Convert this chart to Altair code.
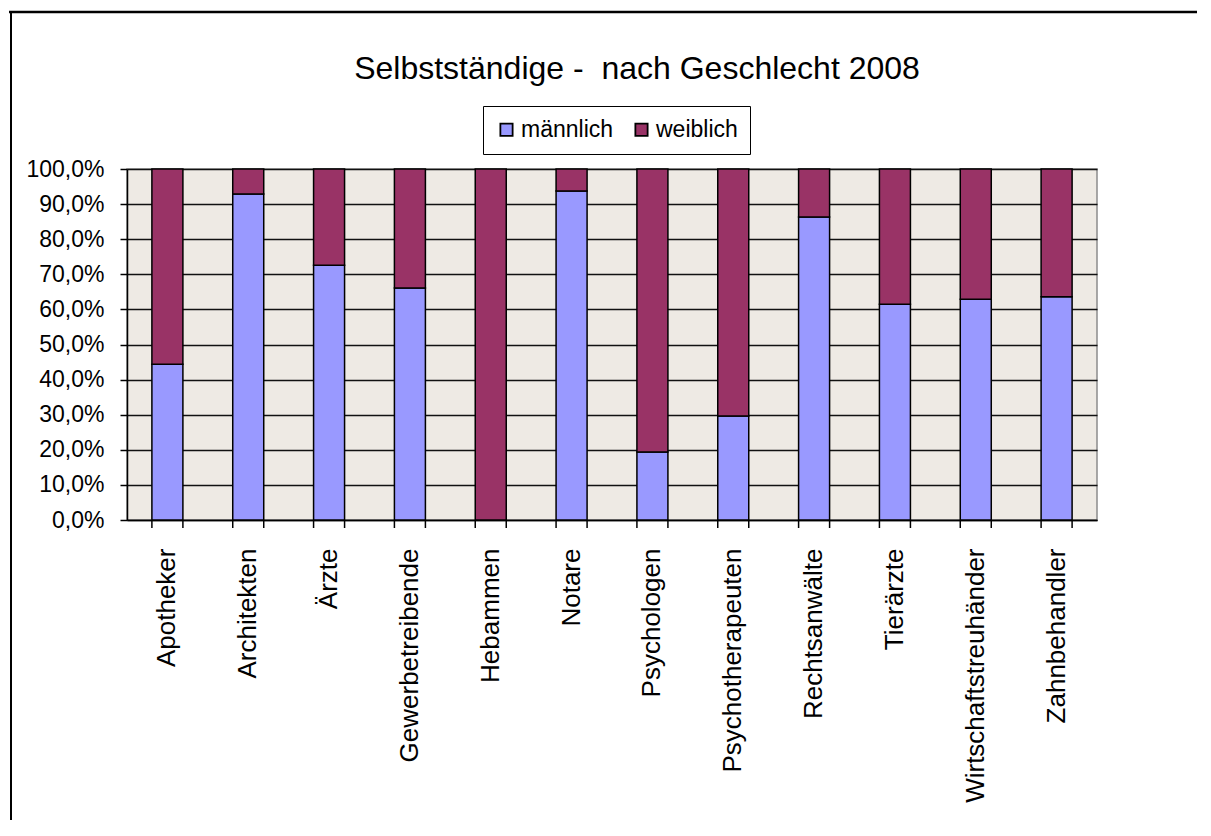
import altair as alt
import pandas as pd

categories = ["Apotheker", "Architekten", "Ärzte", "Gewerbetreibende", "Hebammen", "Notare",
              "Psychologen", "Psychotherapeuten", "Rechtsanwälte", "Tierärzte",
              "Wirtschaftstreuhänder", "Zahnbehandler"]
maennlich = [44.4, 92.9, 72.6, 66.1, 0.0, 93.7, 19.4, 29.6, 86.3, 61.5, 62.9, 63.6]
weiblich = [55.6, 7.1, 27.4, 33.9, 100.0, 6.3, 80.6, 70.4, 13.7, 38.5, 37.1, 36.4]
series = ["männlich", "weiblich"]
colors = ["#9999FF", "#993366"]
title_text = "Selbstständige - \u00a0nach Geschlecht 2008"

rows = []
for c, m, w in zip(categories, maennlich, weiblich):
    rows.append({"cat": c, "series": series[0], "value": m, "ord": 0})
    rows.append({"cat": c, "series": series[1], "value": w, "ord": 1})
df = pd.DataFrame(rows)
cat_df = pd.DataFrame({"cat": categories})
one = pd.DataFrame({"t": [title_text]})

FONT = "Liberation Sans"

xscale = alt.Scale(domain=categories, paddingInner=0.6165, paddingOuter=0.308)

bars = alt.Chart(df).mark_bar(stroke="black", strokeWidth=1.5).encode(
    x=alt.X("cat:N", sort=categories, scale=xscale,
            axis=alt.Axis(title=None, labelAngle=270, ticks=False, labelPadding=28,
                          labelFontSize=26, labelFont=FONT, labelColor="black",
                          domainColor="black", domainWidth=1.5, labelLimit=400)),
    y=alt.Y("value:Q", stack="zero", scale=alt.Scale(domain=[0, 100], nice=False),
            axis=alt.Axis(title=None, values=list(range(0, 101, 10)),
                          labelExpr="replace(format(datum.value, '.1f'), '.', ',') + '%'",
                          labelFontSize=23, labelFont=FONT, labelColor="black",
                          labelPadding=16, tickSize=7, tickColor="black", tickWidth=1.5,
                          domainColor="black", domainWidth=1.5,
                          grid=True, gridColor="#111111", gridWidth=1.6)),
    color=alt.Color("series:N", scale=alt.Scale(domain=series, range=colors),
                    legend=alt.Legend(title=None, orient="none", direction="horizontal",
                                      legendX=356, legendY=-63,
                                      labelFontSize=23, labelFont=FONT, labelColor="black",
                                      symbolType="square", symbolSize=150,
                                      symbolStrokeColor="black", symbolStrokeWidth=1.8,
                                      labelOffset=3, columnPadding=16,
                                      strokeColor="black", fillColor="white",
                                      padding=12)),
    order=alt.Order("ord:Q"),
)

ticks0 = alt.Chart(cat_df).mark_rule(color="black", strokeWidth=1.5).encode(
    x=alt.X("cat:N", sort=categories, bandPosition=0),
    y=alt.value(351), y2=alt.value(359))
ticks1 = alt.Chart(cat_df).mark_rule(color="black", strokeWidth=1.5).encode(
    x=alt.X("cat:N", sort=categories, bandPosition=1),
    y=alt.value(351), y2=alt.value(359))

border_top = alt.Chart(cat_df.head(1)).mark_rule(color="black", strokeWidth=2.5).encode(
    x=alt.value(-118), x2=alt.value(1100), y=alt.value(-157))
border_left = alt.Chart(cat_df.head(1)).mark_rule(color="black", strokeWidth=2).encode(
    x=alt.value(-116), y=alt.value(-157), y2=alt.value(700))

title = alt.Chart(one).mark_text(font=FONT, fontSize=32, color="black", align="center",
                                 baseline="alphabetic").encode(
    text="t:N", x=alt.value(510), y=alt.value(-90))

chart = alt.layer(bars, ticks0, ticks1, border_top, border_left, title).properties(
    width=970, height=351,
    padding={"left": 119, "top": 161, "right": 100, "bottom": 300},
    autosize=alt.AutoSizeParams(type="none"),
    background="white",
).configure_view(fill="#EEEAE4", stroke="#8c8c8c", strokeWidth=1.5)

chart.save("out.html", embed_options={"renderer": "svg", "actions": False})
